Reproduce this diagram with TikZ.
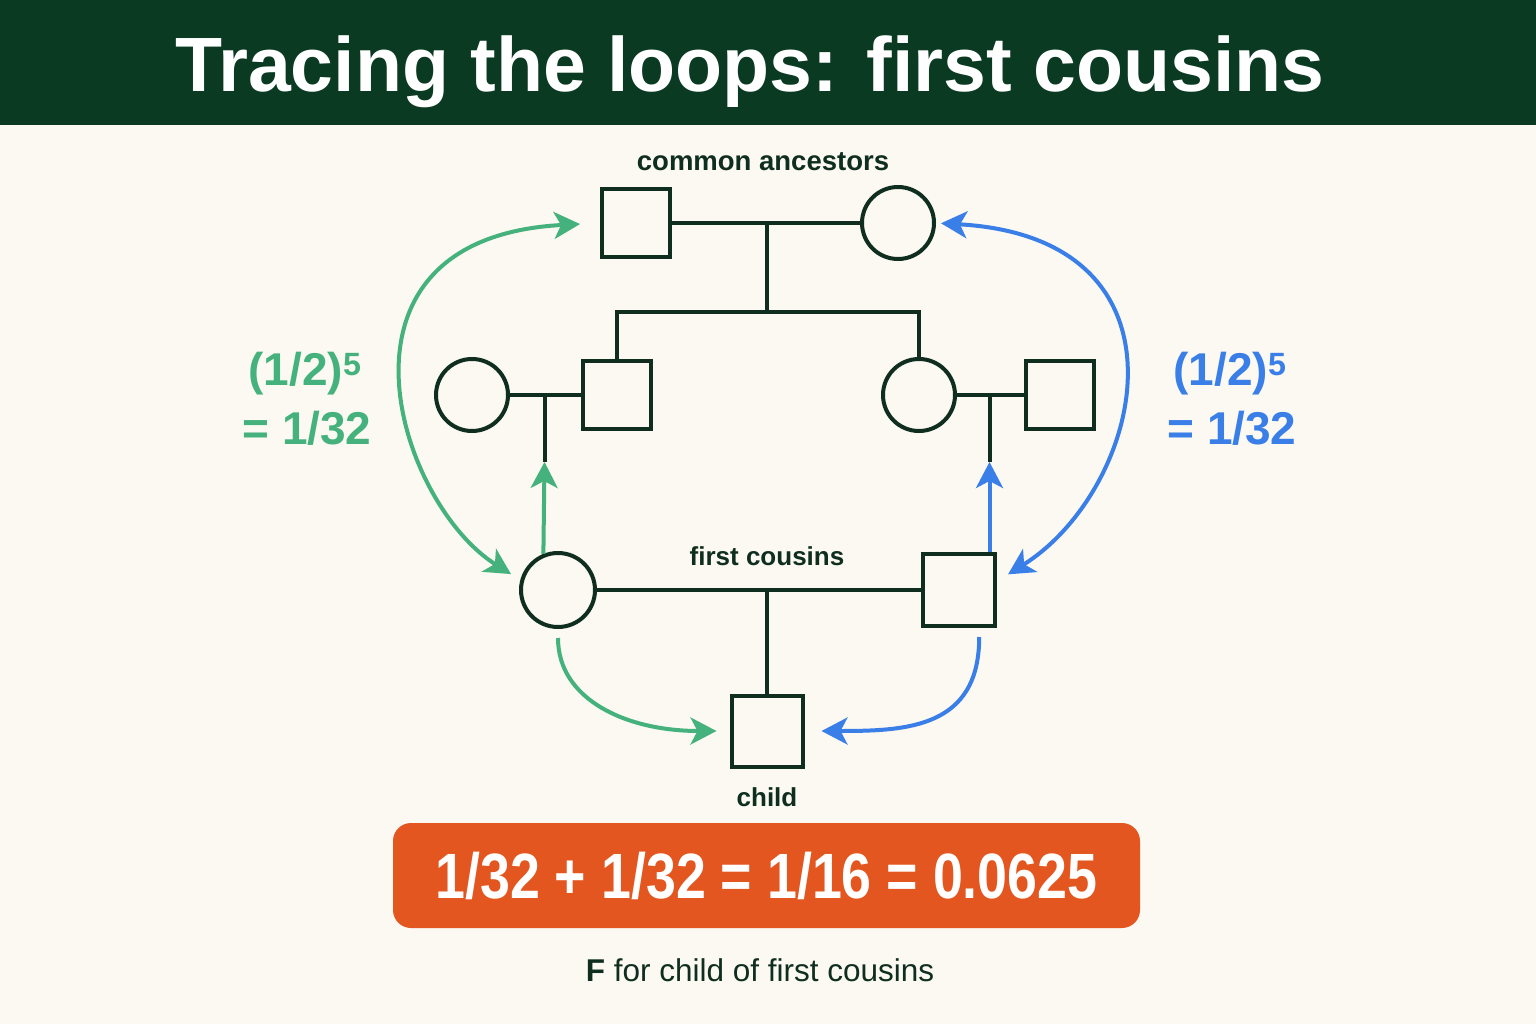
\documentclass[tikz,border=0pt]{standalone}
\usepackage{fontspec}
\setmainfont{Liberation Sans}
\usepackage{tikz}
\usetikzlibrary{arrows.meta,calc}
\definecolor{bg}{HTML}{FBF9F1}
\definecolor{bar}{HTML}{0A3A22}
\definecolor{ink}{HTML}{0F2E20}
\definecolor{loopgreen}{HTML}{45B27D}
\definecolor{loopblue}{HTML}{3A7EE8}
\definecolor{sumorange}{HTML}{E4561F}
\tikzset{every picture/.append style={x=1pt,y=1pt}}
\tikzset{male/.style={draw=ink, line width=4pt, minimum size=68pt, inner sep=0pt}}
\tikzset{female/.style={circle, draw=ink, line width=4pt, minimum size=72pt, inner sep=0pt}}
\tikzset{edge/.style={line width=4pt, ink}}
\tikzset{edgeflow/.style={line width=4pt, #1, >={Stealth[length=26pt,width=27pt,inset=7pt]}}}
\tikzset{edgeflow/.default=loopgreen}
\tikzset{tag/.style={anchor=base, text=ink, font=\bfseries\fontsize{26}{30}\selectfont}}
\tikzset{pathprob/.style={anchor=base, text=#1, font=\bfseries\fontsize{46}{50}\selectfont}}

\begin{document}
\begin{tikzpicture}
\fill[bg] (0,0) rectangle (1536,-1024);
\fill[bar] (0,0) rectangle (1536,-125);
\node (title) at (750,-92)[anchor=base, text=white, font=\bfseries\fontsize{77}{80}\selectfont]{Tracing the loops: first cousins};

%ancestors and their children
\node (a1) at (636,-223)[male]{};
\node (a2) at (898,-223)[female]{};
\node (anc) at (763,-171)[tag, font=\bfseries\fontsize{27.5}{30}\selectfont]{common ancestors};
\node (l1) at (472,-395)[female]{};
\node (l2) at (617,-395)[male]{};
\node (r1) at (919,-395)[female]{};
\node (r2) at (1060,-395)[male]{};

\draw[edge] (a1)--(a2);
\coordinate (m1) at ($(a1)!0.5!(a2)$);
\coordinate (s1) at ($(m1)+(0,-89)$);
\draw[edge] (m1)--(s1);
\draw[edge] (l2) |- (s1) -| (r1);
\draw[edge] (l1)--(l2);
\draw[edge] (r1)--(r2);
\coordinate (m3) at ($(l1)!0.5!(l2)$);
\coordinate (j1) at ($(m3)+(0,-67)$);
\coordinate (m4) at ($(r1)!0.5!(r2)$);
\coordinate (j2) at ($(m4)+(0,-67)$);
\draw[edge] (m3)--(j1);
\draw[edge] (m4)--(j2);

%first cousins and child
\node (c1) at (558,-590)[female, minimum size=74pt]{};
\node (c2) at (959,-590)[male, minimum size=72pt]{};
\node (cous) at (767,-565)[tag]{first cousins};
\node (ch) at (767,-731)[male, minimum size=71pt]{};
\node (chl) at (767,-806)[tag]{child};
\draw[edge] (c1)--(c2);
\draw[edge] (ch |- c1)--(ch);

%the two loops
\draw[edgeflow, ->] (c1.112)--(j1);
\draw[edgeflow=loopblue, ->] (j2 |- c2.north)--(j2);
\draw[edgeflow, <->, shorten <=20pt, shorten >=11pt] (a1.west) .. controls +(-287,-15) and +(-123,77) .. (c1.165);
\draw[edgeflow=loopblue, <->, shorten <=5pt, shorten >=13pt] (a2.east) .. controls +(267,-15) and +(147,92) .. (c2.13);
\draw[edgeflow, ->, shorten <=9pt, shorten >=13pt] (c1) .. controls +(0,-110) and +(-140,0) .. (ch);
\draw[edgeflow=loopblue, ->, shorten <=9pt, shorten >=17pt] (c2.-62) .. controls +(0,-100) and +(140,0) .. (ch);

\node (gp1) at (305,-385)[pathprob=loopgreen]{(1/2)\textsuperscript{5}};
\node (gp2) at (307,-444)[pathprob=loopgreen]{= 1/32};
\node (bp1) at (1230,-385)[pathprob=loopblue]{(1/2)\textsuperscript{5}};
\node (bp2) at (1232,-444)[pathprob=loopblue]{= 1/32};

%the sum
\node (sum) at (766.5,-875.5)[fill=sumorange, rounded corners=18pt, minimum width=747pt, minimum height=105pt, text=white, font=\bfseries\fontsize{64}{70}\selectfont]{\scalebox{0.84}[1]{1/32 + 1/32 = 1/16 = 0.0625}};
\node (cap) at (760,-981)[anchor=base, text=ink, font=\fontsize{31.5}{36}\selectfont]{\textbf{F} for child of first cousins};
\end{tikzpicture}
\end{document}
